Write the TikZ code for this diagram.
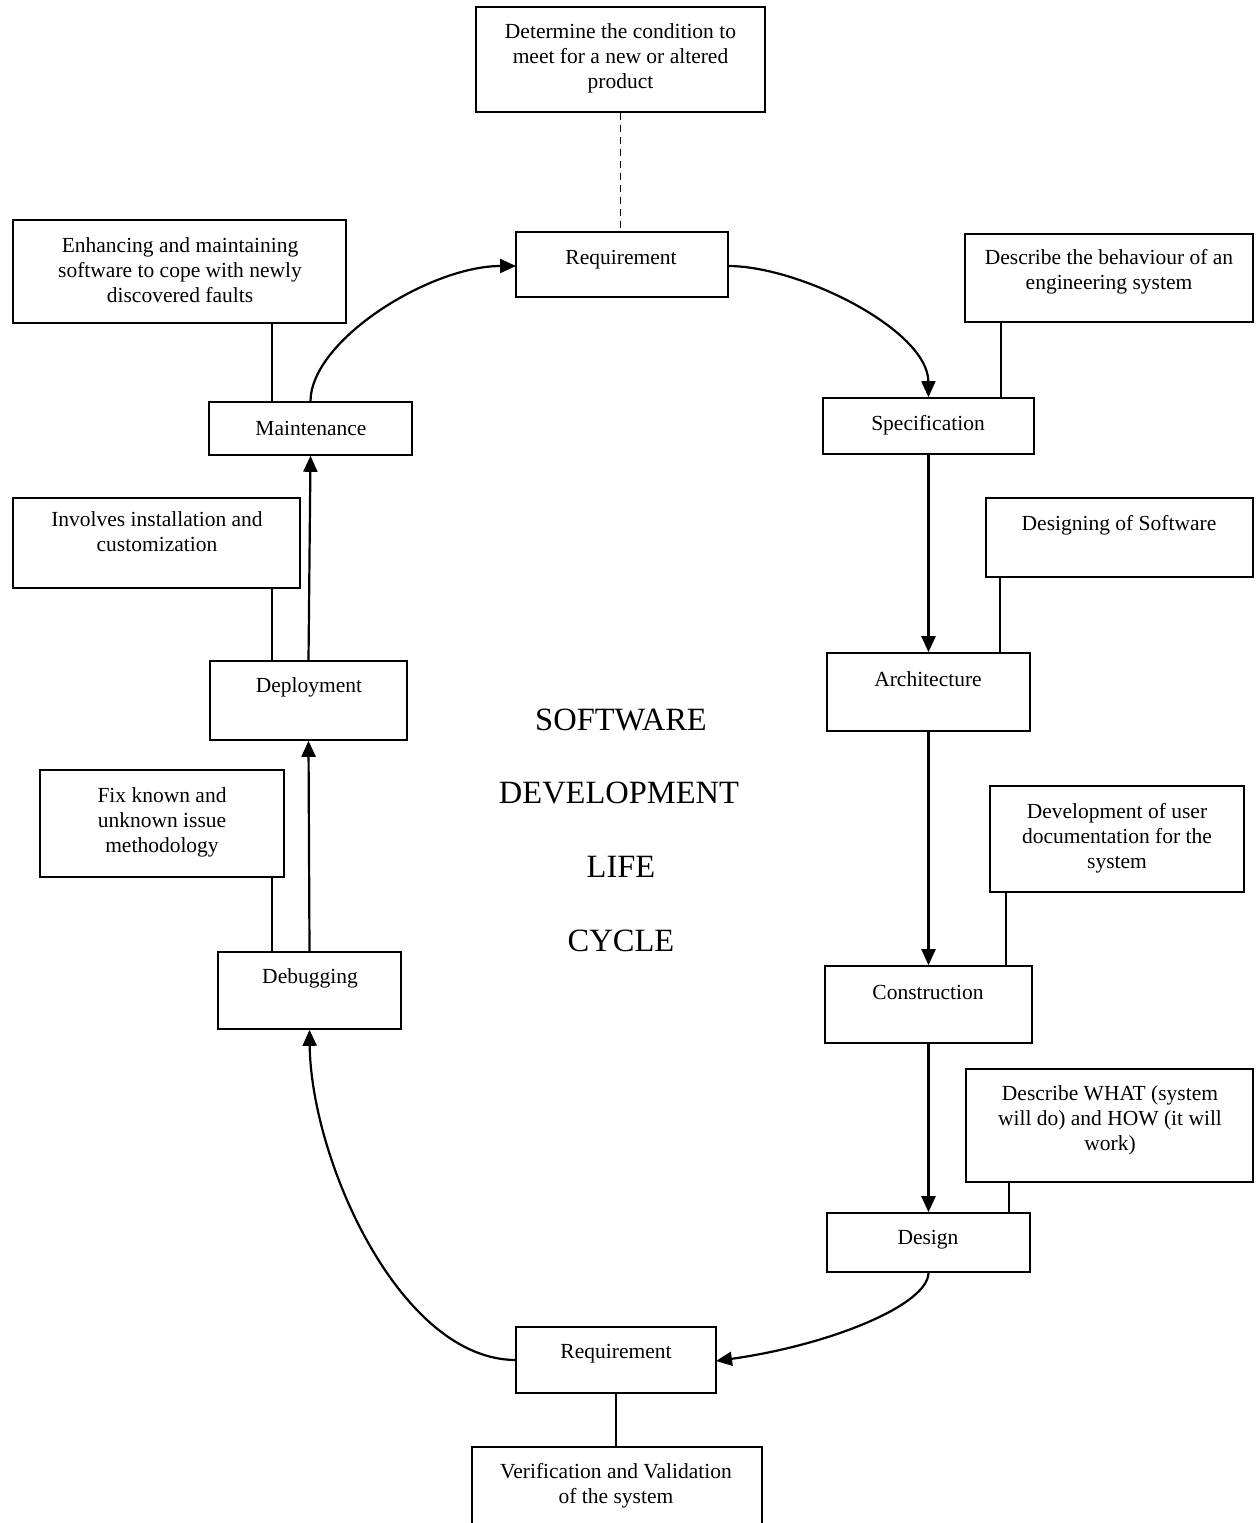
\documentclass[tikz,border=0pt]{standalone}
\usepackage{fontspec}
\setmainfont{Liberation Serif}
\usetikzlibrary{arrows.meta}
\begin{document}
\begin{tikzpicture}[x=1pt,y=-1pt,
  box/.style={draw, line width=1.6pt, rectangle, inner sep=0pt},
  lbl/.style={align=center, inner sep=0pt, font=\fontsize{21.5}{25}\selectfont},
  title/.style={inner sep=0pt, font=\fontsize{32.5}{36}\selectfont},
  flow/.style={line width=2.2pt, -{Triangle[length=16pt,width=14pt]}},
  link/.style={line width=1.6pt}]
\clip (0,0) rectangle (1257,1523);
\fill[white] (0,0) rectangle (1257,1523);
% boxes
\node[box, minimum width=289pt, minimum height=105pt] (det) at (620.5,59.5) {};
\node[box, minimum width=212pt, minimum height=65pt] (req) at (622,264.5) {};
\node[box, minimum width=333pt, minimum height=103pt] (enh) at (179.5,271.5) {};
\node[box, minimum width=203pt, minimum height=53pt] (mnt) at (310.5,428.5) {};
\node[box, minimum width=288pt, minimum height=88pt] (beh) at (1109,278) {};
\node[box, minimum width=211pt, minimum height=56pt] (spec) at (928.5,426) {};
\node[box, minimum width=267pt, minimum height=79pt] (dsw) at (1119.5,537.5) {};
\node[box, minimum width=203pt, minimum height=78pt] (arch) at (928.5,692) {};
\node[box, minimum width=254pt, minimum height=106pt] (dev) at (1117,839) {};
\node[box, minimum width=207pt, minimum height=77pt] (cons) at (928.5,1004.5) {};
\node[box, minimum width=287pt, minimum height=113pt] (what) at (1109.5,1125.5) {};
\node[box, minimum width=203pt, minimum height=59pt] (des) at (928.5,1242.5) {};
\node[box, minimum width=200pt, minimum height=66pt] (req2) at (616,1360) {};
\node[box, minimum width=290pt, minimum height=110pt] (ver) at (617,1502) {};
\node[box, minimum width=183pt, minimum height=77pt] (dbg) at (309.5,990.5) {};
\node[box, minimum width=244pt, minimum height=107pt] (fix) at (162,823.5) {};
\node[box, minimum width=197pt, minimum height=79pt] (dep) at (308.5,700.5) {};
\node[box, minimum width=287pt, minimum height=90pt] (inv) at (156.5,543) {};
% texts
\node[lbl] (detT) at (620.5,58) {Determine the condition to\\meet for a new or altered\\product};
\node[lbl] (reqT) at (621,260) {Requirement};
\node[lbl] (enhT) at (180,270) {Enhancing and maintaining\\software to cope with newly\\discovered faults};
\node[lbl] (mntT) at (311,428) {Maintenance};
\node[lbl] (behT) at (1109,272) {Describe the behaviour of an\\engineering system};
\node[lbl] (specT) at (928,425) {Specification};
\node[lbl] (dswT) at (1119,525) {Designing of Software};
\node[lbl] (archT) at (928,679) {Architecture};
\node[lbl] (devT) at (1117,838) {Development of user\\documentation for the\\system};
\node[lbl] (consT) at (928,992) {Construction};
\node[lbl] (whatT) at (1110,1120) {Describe WHAT (system\\will do) and HOW (it will\\work)};
\node[lbl] (desT) at (928,1240) {Design};
\node[lbl] (req2T) at (616,1354) {Requirement};
\node[lbl] (verT) at (616,1486) {Verification and Validation\\of the system};
\node[lbl] (dbgT) at (310,978) {Debugging};
\node[lbl] (fixT) at (162,822) {Fix known and\\unknown issue\\methodology};
\node[lbl] (depT) at (309,687) {Deployment};
\node[lbl] (invT) at (157,532) {Involves installation and\\customization};
% title
\node[title] (t1) at (621,720) {SOFTWARE};
\node[title] (t2) at (619,793) {DEVELOPMENT};
\node[title] (t3) at (621,867) {LIFE};
\node[title] (t4) at (621,941) {CYCLE};
% dashed link
\draw[link, dashed, line width=1.8pt, dash pattern=on 7pt off 5pt] (det.south) -- (req.north -| det.south);
% plain links
\draw[link] (enh.south -| 272,0) -- (mnt.north -| 272,0);
\draw[link] (beh.south -| 1001,0) -- (spec.north -| 1001,0);
\draw[link] (dsw.south -| 1000,0) -- (arch.north -| 1000,0);
\draw[link] (dev.south -| 1006,0) -- (cons.north -| 1006,0);
\draw[link] (what.south -| 1009,0) -- (des.north -| 1009,0);
\draw[link] (req2.south) -- (ver.north -| req2.south);
\draw[link] (inv.south -| 272,0) -- (dep.north -| 272,0);
\draw[link] (fix.south -| 272,0) -- (dbg.north -| 272,0);
% flow arrows
\coordinate (reqR) at (728,266);
\coordinate (reqL) at (516,266);
\draw[flow] (mnt.north) .. controls (311,340) and (430,266) .. (reqL);
\draw[flow] (reqR) .. controls (800,266) and (928,330) .. (spec.north);
\draw[flow] (spec.south) -- (arch.north);
\draw[flow] (arch.south) -- (cons.north);
\draw[flow] (cons.south) -- (des.north);
\coordinate (req2R) at (716,1361);
\coordinate (req2L) at (516,1360);
\draw[flow] (des.south) .. controls (928,1305) and (830,1345) .. (req2R);
\draw[flow] (req2L) .. controls (400,1360) and (311,1160) .. (dbg.south);
\draw[flow] (dbg.north) -- (dep.south);
\draw[flow] (dep.north) -- (mnt.south);
\end{tikzpicture}
\end{document}
